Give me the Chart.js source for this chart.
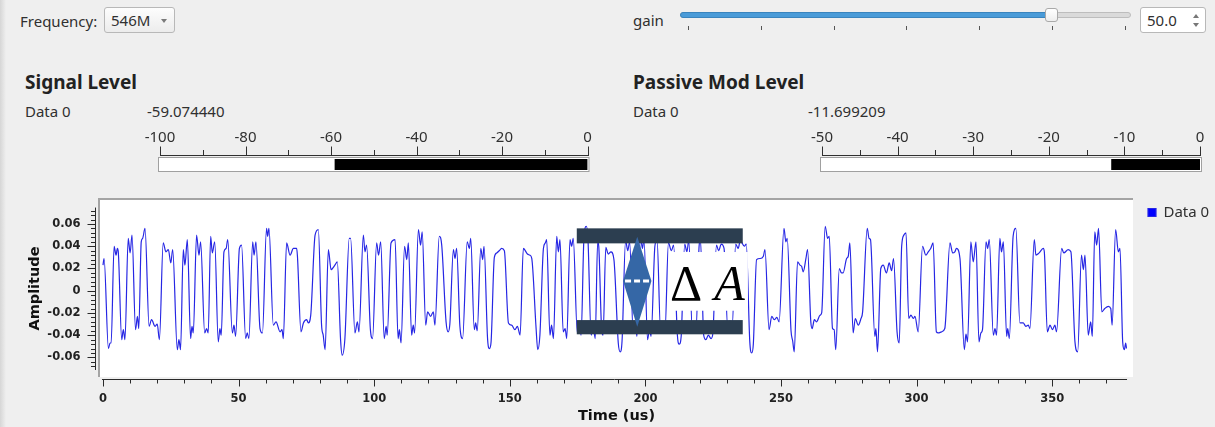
<!DOCTYPE html>
<html>
<head>
<meta charset="utf-8">
<title>Signal Level</title>
<script src="https://cdn.jsdelivr.net/npm/chart.js@4.4.1/dist/chart.umd.min.js"></script>
<style>
html, body { margin: 0; padding: 0; }
body {
  width: 1215px; height: 427px; position: relative; overflow: hidden;
  background: #efefef; color: #303030;
  font-family: "Noto Sans", sans-serif; font-size: 15px;
}
.edge { position: absolute; left: 0; top: 0; width: 6px; height: 427px; background: linear-gradient(to right, #d6d6d6, #efefef); }
.t { position: absolute; white-space: nowrap; line-height: 20px; }
.h { position: absolute; white-space: nowrap; font-weight: bold; font-size: 19px; line-height: 24px; color: #222; }
.combo { position: absolute; left: 104px; top: 7px; width: 71px; height: 26px; box-sizing: border-box;
  border: 1px solid #b8b8b8; border-radius: 3px; background: linear-gradient(#fdfdfd, #ececec); }
.combo span { position: absolute; left: 6px; top: 1px; line-height: 22px; }
.combo i { position: absolute; left: 56px; top: 11px; border-left: 3.5px solid transparent;
  border-right: 3.5px solid transparent; border-top: 4px solid #7a7a7a; }
.groove { position: absolute; left: 680px; top: 12px; width: 451px; height: 6px; box-sizing: border-box;
  border: 1px solid #bdbdbd; border-radius: 3px; background: #dadada; }
.fill { position: absolute; left: 680px; top: 12px; width: 372px; height: 6px; box-sizing: border-box;
  border: 1px solid #3a84bd; border-radius: 3px; background: #4a9bd8; }
.handle { position: absolute; left: 1045px; top: 8px; width: 13px; height: 14px; box-sizing: border-box;
  border: 1px solid #a9a9a9; border-radius: 3px; background: linear-gradient(#ffffff, #eeeeee); }
.tick { position: absolute; top: 26px; width: 1px; height: 4px; background: #555; }
.spin { position: absolute; left: 1140px; top: 7px; width: 66px; height: 26px; box-sizing: border-box;
  border: 1px solid #b8b8b8; border-radius: 3px; background: #fff; }
.spin span { position: absolute; left: 6px; top: 2px; line-height: 21px; }
.spin .up { position: absolute; left: 52px; top: 6px; border-left: 3.5px solid transparent;
  border-right: 3.5px solid transparent; border-bottom: 4px solid #777; }
.spin .dn { position: absolute; left: 52px; top: 15px; border-left: 3.5px solid transparent;
  border-right: 3.5px solid transparent; border-top: 4px solid #777; }
canvas { position: absolute; }
</style>
</head>
<body>
<div class="edge"></div>

<div class="t" style="left:20px;top:11px">Frequency:</div>
<div class="combo"><span>546M</span><i></i></div>

<div class="t" style="left:633px;top:10px">gain</div>
<div class="groove"></div>
<div class="fill"></div>
<div class="handle"></div>
<div id="sliderTicks"></div>
<div class="spin"><span id="gainValue"></span><b class="up"></b><b class="dn"></b></div>

<div class="h" style="left:25px;top:70px">Signal Level</div>
<div class="t" style="left:25px;top:101px">Data 0</div>
<div class="t" id="sigValue" style="left:147px;top:101px"></div>

<div class="h" style="left:633px;top:70px">Passive Mod Level</div>
<div class="t" style="left:633px;top:101px">Data 0</div>
<div class="t" id="modValue" style="left:808px;top:101px"></div>

<canvas id="sigGauge" width="490" height="56" style="left:120px;top:120px"></canvas>
<canvas id="modGauge" width="433" height="56" style="left:782px;top:120px"></canvas>
<canvas id="scope" width="1215" height="237" style="left:0;top:190px"></canvas>

<script>
// ---- values ----
const gain = 50.0;
const signalLevel = -59.074440;
const signalRange = [-100, 0];
const modLevel = -11.699209;
const modRange = [-50, 0];

// time-domain trace, Data 0 (one line per high/low stretch)
const timeUs = [
  0.0, 0.4,
  2.0, 2.6, 3.0,
  4.1, 4.8, 5.3, 5.6,
  6.9, 7.5, 8.1,
  9.3, 10.0, 10.7,
  12.0, 12.7, 13.2,
  14.1, 14.6, 15.5,
  17.0, 17.9, 19.2, 20.0, 20.8,
  22.2, 23.2, 24.1, 25.0, 25.7,
  27.4, 28.0, 28.6,
  29.6, 30.2, 31.1,
  32.3, 32.8, 33.3,
  34.5, 35.4, 36.0,
  37.5, 38.2, 38.8,
  39.7, 40.3, 41.2,
  42.5, 43.1, 43.6,
  44.6, 45.4, 46.0,
  47.7, 48.3, 48.9,
  50.3, 51.1,
  52.6, 53.2, 53.8,
  55.2, 55.7, 56.4,
  57.9, 58.8,
  60.3, 60.7, 61.2,
  62.8, 63.8, 65.3, 66.0, 66.5,
  67.7, 69.0, 70.2, 71.4, 71.7,
  73.0, 73.9, 75.1, 75.7, 76.6,
  78.2, 79.4,
  80.6, 81.2, 81.9,
  83.1, 84.1, 85.5, 86.4,
  87.6, 88.2, 89.2,
  90.8, 91.3,
  92.9, 93.8, 94.4,
  96.0, 96.6, 97.2,
  98.6, 99.4,
  100.9, 101.6, 102.4,
  103.7, 104.4, 104.8,
  106.2, 107.7,
  108.8, 109.3, 109.9,
  111.2, 112.0, 112.6,
  113.8, 114.4, 114.9,
  116.3, 117.1, 117.7,
  119.0, 119.7, 120.8, 121.8, 122.4,
  124.0, 124.9,
  126.5, 127.3, 127.9,
  129.2, 129.8, 130.4,
  131.6, 132.6,
  134.3, 135.1, 135.6,
  136.9, 137.4, 138.0,
  139.3, 140.0, 140.5,
  141.8, 142.5, 143.1,
  144.3, 145.2, 146.1, 147.0, 148.0,
  149.5, 150.7, 151.9, 152.8, 153.8,
  155.0, 156.5, 157.4, 158.1,
  159.7, 160.3, 161.1,
  162.4, 163.1, 163.6,
  164.8, 165.4, 166.1,
  167.3, 167.9, 168.5,
  169.7, 170.4, 171.0,
  172.2, 172.8, 173.4,
  174.9, 175.6, 176.3,
  177.3, 178.2, 178.8,
  180.0, 180.8, 181.5,
  182.4, 182.8,
  183.9, 184.4,
  185.4, 186.3, 187.3, 188.4,
  190.0, 190.7, 191.4,
  192.7, 193.5, 194.2,
  195.5, 196.2, 196.9,
  198.2, 198.9, 199.5,
  200.8, 201.5, 202.1,
  203.5, 204.3,
  205.6, 206.4, 207.2,
  208.5, 209.6, 210.4,
  211.8, 212.5, 213.2,
  214.5, 215.3, 216.0,
  217.3, 218.0, 218.6,
  219.8, 220.3,
  221.5, 222.3, 223.2, 224.2, 224.9,
  226.2, 227.0, 228.0, 229.0,
  230.4, 231.2, 232.0,
  233.3, 234.2, 235.0, 236.5, 237.2,
  238.5, 239.2, 239.8,
  241.0, 242.3, 243.5, 244.1,
  245.6, 246.6, 247.5, 248.5, 249.3,
  251.1, 251.8, 252.3,
  253.7, 254.3, 254.9,
  256.1, 257.0, 257.6, 258.2, 259.2, 259.8,
  261.0, 261.5, 262.3, 263.1, 264.4, 265.0,
  266.3, 267.2, 267.8,
  269.0, 269.6, 270.2,
  271.5, 272.3, 272.9, 274.2, 274.8, 275.4,
  276.6, 277.4, 278.5, 279.5, 280.1,
  281.8, 282.5, 283.0,
  284.6, 285.0, 285.6,
  286.8, 287.7, 288.9, 289.9, 290.8, 291.5,
  292.8, 293.6,
  294.5, 295.3, 296.1,
  297.1, 297.9, 298.8, 299.4, 300.6,
  302.2, 303.4, 304.3, 305.2, 306.1,
  307.3, 308.0, 309.2, 310.4,
  312.3, 313.3, 314.1, 314.7, 316.0,
  317.6, 318.2, 318.8,
  320.0, 320.9, 321.9,
  323.0, 323.7, 324.3,
  325.6, 326.2, 326.8,
  328.3, 328.9, 329.5,
  330.7, 331.3, 332.0,
  333.2, 333.6, 334.2,
  335.6, 336.6,
  338.1, 339.3, 340.3, 341.2, 341.8,
  343.4, 344.0, 345.2, 346.7, 347.1,
  348.2, 349.2, 350.1, 351.0, 351.6,
  353.5, 354.3, 355.9, 356.9,
  358.4, 359.4,
  360.8, 361.5, 362.1,
  363.3, 364.2, 364.8,
  365.7, 366.4, 367.1,
  368.3, 369.4, 370.7, 371.6, 372.1,
  373.4, 374.4, 375.0,
  376.0, 376.6, 377.1, 377.4
];
const amplitude = [
  0.023, 0.029,
  -0.052, -0.047, -0.047,
  0.040, 0.032, 0.038, 0.036,
  -0.044, -0.035, -0.044,
  0.047, 0.034, 0.050,
  -0.035, -0.023, -0.034,
  0.044, 0.047, 0.056,
  -0.032, -0.026, -0.032, -0.030, -0.044,
  0.043, 0.035, 0.037, 0.025, 0.037,
  -0.053, -0.044, -0.053,
  0.037, 0.023, 0.046,
  -0.043, -0.032, -0.038,
  0.050, 0.032, 0.044,
  -0.038, -0.034, -0.038,
  0.049, 0.034, 0.044,
  -0.046, -0.034, -0.040,
  0.035, 0.038, 0.046,
  -0.038, -0.031, -0.041,
  0.038, 0.041,
  -0.043, -0.038, -0.043,
  0.044, 0.032, 0.044,
  -0.034, -0.038,
  0.056, 0.049, 0.056,
  -0.031, -0.028, -0.037, -0.035, -0.043,
  0.043, 0.032, 0.038, 0.038, 0.031,
  -0.037, -0.029, -0.026, -0.029, -0.022,
  0.050, 0.055,
  -0.031, -0.040, -0.053,
  0.037, 0.019, 0.023, 0.026,
  -0.044, -0.058, -0.043,
  0.047, 0.047,
  -0.038, -0.028, -0.037,
  0.050, 0.035, 0.041,
  -0.035, -0.043,
  0.043, 0.032, 0.044,
  -0.043, -0.032, -0.040,
  0.043, 0.046,
  -0.043, -0.035, -0.047,
  0.040, 0.028, 0.043,
  -0.040, -0.031, -0.038,
  0.055, 0.041, 0.053,
  -0.031, -0.019, -0.023, -0.019, -0.031,
  0.049, 0.041,
  -0.028, -0.037, -0.030,
  0.037, 0.029, 0.038,
  -0.032, -0.043,
  0.044, 0.038, 0.047,
  -0.035, -0.029, -0.036,
  0.038, 0.028, 0.040,
  -0.043, -0.052, -0.046,
  0.030, 0.034, 0.036, 0.038, 0.036,
  -0.029, -0.031, -0.035, -0.032, -0.040,
  0.038, 0.033, 0.032, 0.029,
  -0.034, -0.053, -0.040,
  0.038, 0.043, 0.046,
  -0.040, -0.031, -0.043,
  0.049, 0.035, 0.046,
  -0.037, -0.034, -0.043,
  0.046, 0.040, 0.047,
  -0.038, -0.030, -0.040,
  0.045, 0.058, 0.048,
  -0.040, -0.032, -0.043,
  0.044, 0.040,
  -0.036, -0.040,
  0.039, 0.033, 0.035, 0.028,
  -0.047, -0.055, -0.045,
  0.045, 0.036, 0.044,
  -0.038, -0.030, -0.041,
  0.049, 0.038, 0.046,
  -0.044, -0.034, -0.041,
  0.040, 0.046,
  -0.036, -0.029, -0.038,
  0.043, 0.036, 0.041,
  -0.040, -0.048, -0.041,
  0.042, 0.035, 0.045,
  -0.036, -0.030, -0.038,
  0.040, 0.046,
  -0.040, -0.044, -0.040, -0.043, -0.038,
  0.041, 0.036, 0.042, 0.038,
  -0.035, -0.027, -0.032,
  0.042, 0.038, 0.045, 0.040, 0.042,
  -0.046, -0.056, -0.048,
  0.028, 0.029, 0.031, 0.037,
  -0.035, -0.023, -0.026, -0.024, -0.028,
  0.056, 0.044, 0.047,
  -0.036, -0.045, -0.055,
  0.026, 0.023, 0.022, 0.017, 0.029, 0.037,
  -0.028, -0.034, -0.026, -0.028, -0.022, -0.020,
  0.058, 0.047, 0.049,
  -0.034, -0.035, -0.053,
  0.020, 0.016, 0.016, 0.029, 0.031, 0.043,
  -0.038, -0.025, -0.031, -0.025, -0.019,
  0.056, 0.047, 0.046,
  -0.041, -0.034, -0.055,
  0.020, 0.023, 0.016, 0.025, 0.018, 0.029,
  -0.037, -0.047,
  0.040, 0.050, 0.052,
  -0.025, -0.022, -0.025, -0.023, -0.037,
  0.040, 0.032, 0.035, 0.038, 0.043,
  -0.037, -0.038, -0.037, -0.034,
  0.043, 0.034, 0.035, 0.038, 0.029,
  -0.053, -0.039, -0.046,
  0.044, 0.026, 0.044,
  -0.046, -0.038, -0.035,
  0.044, 0.038, 0.046,
  -0.040, -0.034, -0.040,
  0.047, 0.035, 0.044,
  -0.041, -0.034, -0.043,
  0.049, 0.056,
  -0.029, -0.029, -0.032, -0.031, -0.034,
  0.046, 0.032, 0.034, 0.038, 0.035,
  -0.037, -0.031, -0.035, -0.031, -0.037,
  0.038, 0.034, 0.037, 0.035,
  -0.046, -0.055,
  0.032, 0.019, 0.032,
  -0.040, -0.028, -0.041,
  0.053, 0.041, 0.056,
  -0.019, -0.016, -0.014, -0.016, -0.031,
  0.055, 0.035, 0.038,
  -0.046, -0.053, -0.047, -0.052
];

// axis extents of the scope (the white canvas is a bit larger)
const timeAxis = { from: 0, to: 377.6, major: 50, minor: 10 };
const ampAxis = { from: -0.0713, to: 0.0748, major: 0.02, minor: 0.004 };

// the "delta A" overlay, in data units
const deltaSpan = [174.7, 235.9];
const deltaTopBand = [0.0426, 0.0561];
const deltaBottomBand = [-0.0392, -0.0264];
const deltaArrow = { t: 197.0, halfWidth: 5.24, top: 0.0486, bottom: -0.0324, mid: 0.0087 };
const deltaLabelBox = { t: [209.1, 237.8], a: [-0.0180, 0.0348] };
const deltaLabel = { deltaT: 215.0, letterT: 231.0, baseline: -0.0084 };

// ---- plain widgets ----
document.getElementById('gainValue').textContent = gain.toFixed(1);
document.getElementById('sigValue').textContent = signalLevel.toFixed(6);
document.getElementById('modValue').textContent = modLevel.toFixed(6);
const ticksBox = document.getElementById('sliderTicks');
for (let i = 0; i < 7; i++) {
  const d = document.createElement('div');
  d.className = 'tick';
  d.style.left = Math.round(688 + i * 72.8) + 'px';
  ticksBox.appendChild(d);
}

// ---- level gauges ----
const thermo = {
  id: 'thermo',
  beforeDatasetsDraw(chart) {
    const {ctx, chartArea: a} = chart;
    ctx.save();
    ctx.fillStyle = '#ffffff';
    ctx.fillRect(a.left - 1, a.top - 1, a.right - a.left + 2, a.bottom - a.top + 2);
    ctx.strokeStyle = '#a0a0a0';
    ctx.lineWidth = 1;
    ctx.strokeRect(a.left - 1.5, a.top - 1.5, a.right - a.left + 3, a.bottom - a.top + 3);
    ctx.restore();
  },
  afterDraw(chart, args, opts) {
    const {ctx, chartArea: a, scales: {x}} = chart;
    const base = Math.round(a.top - 4) + 0.5;
    ctx.save();
    ctx.strokeStyle = '#303030';
    ctx.lineWidth = 1;
    ctx.beginPath();
    ctx.moveTo(Math.round(x.getPixelForValue(x.min)), base);
    ctx.lineTo(Math.round(x.getPixelForValue(x.max)) + 1, base);
    for (let v = x.min; v <= x.max + 1e-9; v += opts.minor) {
      const p = Math.round(x.getPixelForValue(v)) + 0.5;
      const isMajor = Math.abs(v / opts.major - Math.round(v / opts.major)) < 1e-6;
      ctx.moveTo(p, base);
      ctx.lineTo(p, base - (isMajor ? 9 : 5.5));
    }
    ctx.stroke();
    ctx.restore();
  }
};

function makeGauge(id, value, range, major, minor, padRight) {
  return new Chart(document.getElementById(id), {
    type: 'bar',
    data: {
      labels: ['Data 0'],
      datasets: [{
        data: [[value, range[1]]],
        backgroundColor: '#000000',
        borderWidth: 0,
        borderSkipped: false,
        barPercentage: 1,
        categoryPercentage: 1
      }]
    },
    options: {
      indexAxis: 'y',
      responsive: false,
      animation: false,
      layout: { padding: { left: 40, right: padRight, top: 0, bottom: 6 } },
      plugins: { legend: { display: false }, tooltip: { enabled: false }, thermo: { major, minor } },
      scales: {
        x: {
          position: 'top', min: range[0], max: range[1],
          // tick marks are drawn by the thermo plugin; tickLength only sets the label gap
          grid: { display: false, drawTicks: true, tickLength: 12.5 },
          border: { display: false },
          ticks: {
            stepSize: major, padding: 0, maxRotation: 0, autoSkip: false,
            color: '#303030', font: { family: 'Noto Sans', size: 15 },
            callback: v => String(v)
          },
          afterFit(s) { s.height = 39; }
        },
        y: { display: false }
      }
    },
    plugins: [thermo]
  });
}

makeGauge('sigGauge', signalLevel, signalRange, 20, 10, 22.5);
makeGauge('modGauge', modLevel, modRange, 10, 5, 15);

// ---- scope ----
const scopeFrame = {
  id: 'scopeFrame',
  beforeDatasetsDraw(chart) {
    const {ctx, chartArea: a} = chart;
    ctx.save();
    ctx.fillStyle = '#ffffff';
    ctx.fillRect(a.left, a.top, a.right - a.left, a.bottom - a.top);
    ctx.fillStyle = '#a4a4a4';
    ctx.fillRect(a.left - 2, a.top - 2, a.right - a.left + 2, 2);
    ctx.fillRect(a.left - 2, a.top - 2, 2, a.bottom - a.top + 2);
    ctx.restore();
  },
  afterDraw(chart) {
    const {ctx, chartArea: a, scales: {x, y}} = chart;
    ctx.save();
    ctx.strokeStyle = '#2a2a2a';
    ctx.lineWidth = 1;
    ctx.beginPath();
    // amplitude axis
    const bx = Math.round(a.left - 5) + 0.5;
    ctx.moveTo(bx, y.getPixelForValue(ampAxis.to));
    ctx.lineTo(bx, y.getPixelForValue(ampAxis.from));
    const first = Math.ceil(ampAxis.from / ampAxis.minor);
    const last = Math.floor(ampAxis.to / ampAxis.minor);
    for (let k = first; k <= last; k++) {
      const v = k * ampAxis.minor;
      const p = Math.round(y.getPixelForValue(v)) + 0.5;
      const isMajor = Math.abs(v / ampAxis.major - Math.round(v / ampAxis.major)) < 1e-6;
      ctx.moveTo(bx, p);
      ctx.lineTo(bx - (isMajor ? 8 : 4.5), p);
    }
    // time axis
    const by = Math.round(a.bottom + 2) + 0.5;
    ctx.moveTo(x.getPixelForValue(timeAxis.from) - 1, by);
    ctx.lineTo(x.getPixelForValue(timeAxis.to), by);
    for (let v = timeAxis.from; v <= timeAxis.to; v += timeAxis.minor) {
      const p = Math.round(x.getPixelForValue(v)) + 0.5;
      const isMajor = v % timeAxis.major === 0;
      ctx.moveTo(p, by);
      ctx.lineTo(p, by + (isMajor ? 7 : 4));
    }
    ctx.stroke();
    ctx.restore();
  }
};

const deltaMarker = {
  id: 'deltaMarker',
  afterDatasetsDraw(chart) {
    const {ctx, scales: {x, y}} = chart;
    const px = v => x.getPixelForValue(v);
    const py = v => y.getPixelForValue(v);
    ctx.save();
    // white box behind the label
    ctx.fillStyle = '#ffffff';
    ctx.fillRect(px(deltaLabelBox.t[0]), py(deltaLabelBox.a[1]),
      px(deltaLabelBox.t[1]) - px(deltaLabelBox.t[0]), py(deltaLabelBox.a[0]) - py(deltaLabelBox.a[1]));
    // the two level bars
    ctx.fillStyle = '#2c3e50';
    for (const band of [deltaTopBand, deltaBottomBand]) {
      ctx.fillRect(px(deltaSpan[0]), py(band[1]), px(deltaSpan[1]) - px(deltaSpan[0]), py(band[0]) - py(band[1]));
    }
    // double arrow
    const cx = px(deltaArrow.t);
    const hw = px(deltaArrow.t + deltaArrow.halfWidth) - cx;
    ctx.fillStyle = '#3567a6';
    ctx.beginPath();
    ctx.moveTo(cx, py(deltaArrow.top));
    ctx.lineTo(cx + hw, py(deltaArrow.mid));
    ctx.lineTo(cx, py(deltaArrow.bottom));
    ctx.lineTo(cx - hw, py(deltaArrow.mid));
    ctx.closePath();
    ctx.fill();
    ctx.strokeStyle = '#ffffff';
    ctx.lineWidth = 3;
    ctx.setLineDash([6, 3]);
    ctx.beginPath();
    ctx.moveTo(cx - hw + 2, py(deltaArrow.mid));
    ctx.lineTo(cx + hw - 2, py(deltaArrow.mid));
    ctx.stroke();
    ctx.setLineDash([]);
    // label
    ctx.fillStyle = '#000000';
    ctx.textAlign = 'center';
    ctx.textBaseline = 'alphabetic';
    ctx.font = '50px "Liberation Serif", serif';
    ctx.fillText('\u0394', px(deltaLabel.deltaT), py(deltaLabel.baseline));
    ctx.font = 'italic 50px "Liberation Serif", serif';
    ctx.fillText('A', px(deltaLabel.letterT), py(deltaLabel.baseline));
    ctx.restore();
  }
};

const axisFont = { family: 'DejaVu Sans', weight: 'bold', size: 11.5 };
const titleFont = { family: 'DejaVu Sans', weight: 'bold', size: 14.5 };

new Chart(document.getElementById('scope'), {
  type: 'line',
  data: {
    datasets: [{
      label: 'Data 0',
      data: timeUs.map((t, i) => ({ x: t, y: amplitude[i] })),
      borderColor: 'rgb(38, 38, 228)',
      backgroundColor: '#0000ff',
      borderWidth: 1.2,
      pointRadius: 0,
      cubicInterpolationMode: 'monotone',
      fill: false
    }]
  },
  options: {
    responsive: false,
    animation: false,
    layout: { padding: 0 },
    plugins: {
      tooltip: { enabled: false },
      // empty title: only reserves the strip above the plot canvas
      title: { display: true, text: '', padding: 0, font: { size: 8, lineHeight: 1.25 } },
      legend: {
        position: 'right', align: 'start', maxWidth: 82,
        labels: { boxWidth: 8, boxHeight: 8, padding: 15, color: '#303030', font: { family: 'Noto Sans', size: 15 } }
      }
    },
    scales: {
      x: {
        type: 'linear', min: -1.106, max: 379.8,
        grid: { display: false, drawTicks: true, tickLength: 15.5 },
        border: { display: false },
        ticks: {
          stepSize: timeAxis.major, includeBounds: false, padding: 0,
          maxRotation: 0, autoSkip: false, color: '#222', font: axisFont,
          callback: v => String(v)
        },
        title: { display: true, text: 'Time (us)', color: '#111', font: titleFont, padding: { top: 0, bottom: 2.3 } },
        afterFit(s) { s.height = 50; }
      },
      y: {
        type: 'linear', min: -0.0776, max: 0.0816,
        grid: { display: false, drawTicks: true, tickLength: 19.5 },
        border: { display: false },
        ticks: {
          stepSize: ampAxis.major, includeBounds: false, padding: 0,
          autoSkip: false, color: '#222', font: axisFont,
          callback: v => (Math.abs(v) > 0.07 ? '' : (Math.abs(v) < 1e-9 ? '0' : v.toFixed(2)))
        },
        title: { display: true, text: 'Amplitude', color: '#111', font: titleFont, padding: { top: 26.8, bottom: 0 } },
        afterFit(s) { s.width = 100; }
      }
    }
  },
  plugins: [scopeFrame, deltaMarker]
});
</script>
</body>
</html>
